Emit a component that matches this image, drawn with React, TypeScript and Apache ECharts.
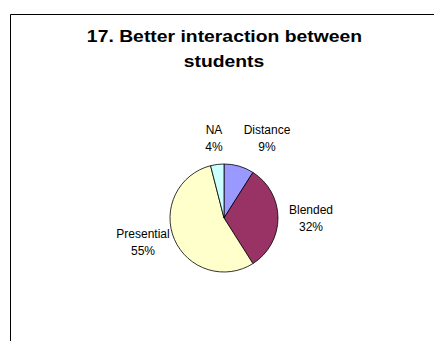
import React, { useEffect, useRef } from "react";
import * as echarts from "echarts";

const titleLines = ["17. Better interaction between", "students"];
const categories = ["Distance", "Blended", "Presential", "NA"];
const values = [9, 32, 55, 4];
const colors = ["#9999FF", "#993366", "#FFFFCC", "#CCFFFF"];
// label offsets from pie centre (layout only)
const labelOffsets = [
  [43, -80],
  [87, 0],
  [-81, 24],
  [-10, -80],
];

const CX = 224;
const CY = 218;
const R = 54;
const TITLE_FONT = "bold 16px 'Liberation Sans', Arial, sans-serif";

export default function App() {
  const ref = useRef<HTMLDivElement>(null);
  useEffect(() => {
    const chart = echarts.init(ref.current!, undefined, { renderer: "svg" });
    chart.setOption({
      animation: false,
      backgroundColor: "#fff",
      graphic: [
        {
          type: "rect",
          shape: { x: 10.5, y: 14.5, width: 600, height: 500 },
          style: { fill: "none", stroke: "#000", lineWidth: 1 },
          silent: true,
        },
        {
          type: "text",
          x: 224.5,
          y: 37,
          scaleX: 1.21,
          style: {
            text: titleLines[0],
            font: TITLE_FONT,
            fill: "#000",
            align: "center",
            verticalAlign: "middle",
          },
        },
        {
          type: "text",
          x: 224,
          y: 61.5,
          scaleX: 1.21,
          style: {
            text: titleLines[1],
            font: TITLE_FONT,
            fill: "#000",
            align: "center",
            verticalAlign: "middle",
          },
        },
      ],
      series: [
        {
          type: "pie",
          center: [CX, CY],
          radius: R,
          startAngle: 90,
          clockwise: true,
          data: categories.map((c, i) => ({
            name: c,
            value: values[i],
            itemStyle: { color: colors[i] },
          })),
          itemStyle: { borderColor: "#000", borderWidth: 0.8 },
          label: {
            show: true,
            position: "outside",
            formatter: (p: any) => `${p.name}\n${Math.round(p.percent)}%`,
            fontFamily: "'Liberation Sans', Arial, sans-serif",
            fontSize: 12,
            color: "#000",
            lineHeight: 17,
            align: "center",
          },
          labelLine: { show: false },
          labelLayout: (p: any) => {
            const o = labelOffsets[p.dataIndex];
            return {
              x: CX + o[0],
              y: CY + o[1],
              align: "center",
              verticalAlign: "middle",
            };
          },
          emphasis: { disabled: true },
        },
      ],
    });
    return () => chart.dispose();
  }, []);
  return (
    <div
      ref={ref}
      style={{ position: "fixed", left: 0, top: 0, width: 434, height: 341 }}
    />
  );
}
